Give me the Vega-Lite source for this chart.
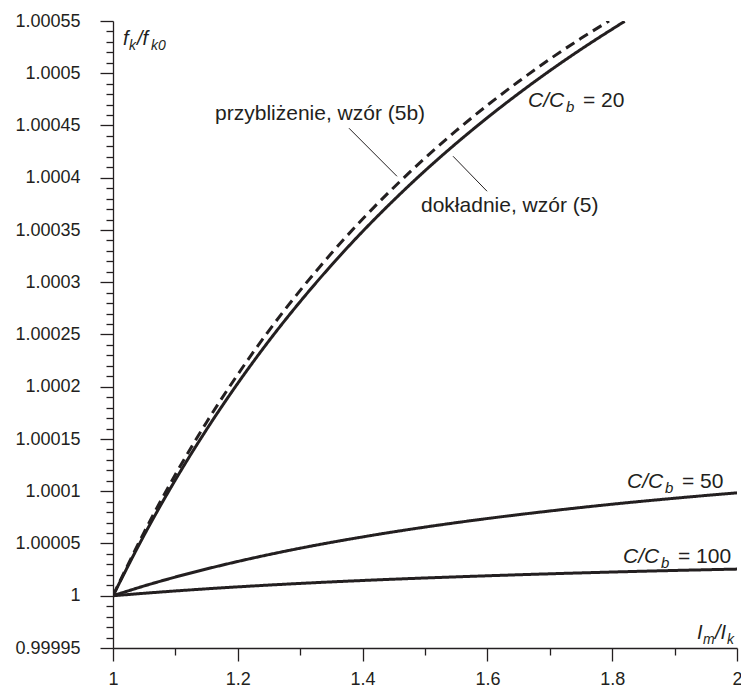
{
  "$schema": "https://vega.github.io/schema/vega-lite/v6.json",
  "width": 624,
  "height": 627,
  "autosize": {"type": "none"},
  "padding": {"left": 113, "top": 21, "right": 4, "bottom": 40},
  "background": "white",
  "config": {
    "view": {"stroke": null},
    "axis": {
      "grid": false,
      "domainColor": "#231f20",
      "domainWidth": 1.3,
      "tickColor": "#231f20",
      "tickWidth": 1.3,
      "labelFont": "Liberation Sans",
      "labelFontSize": 18,
      "labelColor": "#231f20",
      "labelOverlap": false,
      "labelFlush": false,
      "labelBound": false
    },
    "text": {"font": "Liberation Sans", "color": "#231f20", "align": "left", "baseline": "alphabetic"}
  },
  "datasets": {
    "curves": [
      {"x": 1, "y": 1, "s": "20"},
      {"x": 1.05, "y": 1.0000581, "s": "20"},
      {"x": 1.1, "y": 1.0001109, "s": "20"},
      {"x": 1.15, "y": 1.0001591, "s": "20"},
      {"x": 1.2, "y": 1.0002033, "s": "20"},
      {"x": 1.25, "y": 1.000244, "s": "20"},
      {"x": 1.3, "y": 1.0002815, "s": "20"},
      {"x": 1.35, "y": 1.0003163, "s": "20"},
      {"x": 1.4, "y": 1.0003486, "s": "20"},
      {"x": 1.45, "y": 1.0003786, "s": "20"},
      {"x": 1.5, "y": 1.0004067, "s": "20"},
      {"x": 1.55, "y": 1.0004329, "s": "20"},
      {"x": 1.6, "y": 1.0004575, "s": "20"},
      {"x": 1.65, "y": 1.0004806, "s": "20"},
      {"x": 1.7, "y": 1.0005024, "s": "20"},
      {"x": 1.75, "y": 1.0005229, "s": "20"},
      {"x": 1.8, "y": 1.0005422, "s": "20"},
      {"x": 1.82, "y": 1.0005497, "s": "20"},
      {"x": 1, "y": 1, "s": "20a"},
      {"x": 1.05, "y": 1.0000609, "s": "20a"},
      {"x": 1.1, "y": 1.000116, "s": "20a"},
      {"x": 1.15, "y": 1.0001661, "s": "20a"},
      {"x": 1.2, "y": 1.0002118, "s": "20a"},
      {"x": 1.25, "y": 1.0002538, "s": "20a"},
      {"x": 1.3, "y": 1.0002922, "s": "20a"},
      {"x": 1.35, "y": 1.0003277, "s": "20a"},
      {"x": 1.4, "y": 1.0003605, "s": "20a"},
      {"x": 1.45, "y": 1.0003907, "s": "20a"},
      {"x": 1.5, "y": 1.0004189, "s": "20a"},
      {"x": 1.55, "y": 1.000445, "s": "20a"},
      {"x": 1.6, "y": 1.0004694, "s": "20a"},
      {"x": 1.65, "y": 1.0004921, "s": "20a"},
      {"x": 1.7, "y": 1.0005135, "s": "20a"},
      {"x": 1.75, "y": 1.0005334, "s": "20a"},
      {"x": 1.795, "y": 1.00055, "s": "20a"},
      {"x": 1, "y": 1, "s": "50"},
      {"x": 1.05, "y": 1.0000094, "s": "50"},
      {"x": 1.1, "y": 1.0000179, "s": "50"},
      {"x": 1.2, "y": 1.0000328, "s": "50"},
      {"x": 1.3, "y": 1.0000455, "s": "50"},
      {"x": 1.4, "y": 1.0000563, "s": "50"},
      {"x": 1.5, "y": 1.0000657, "s": "50"},
      {"x": 1.6, "y": 1.0000739, "s": "50"},
      {"x": 1.7, "y": 1.0000811, "s": "50"},
      {"x": 1.8, "y": 1.0000876, "s": "50"},
      {"x": 1.9, "y": 1.0000933, "s": "50"},
      {"x": 2, "y": 1.0000985, "s": "50"},
      {"x": 1, "y": 1, "s": "100"},
      {"x": 1.1, "y": 1.0000046, "s": "100"},
      {"x": 1.2, "y": 1.0000085, "s": "100"},
      {"x": 1.3, "y": 1.0000118, "s": "100"},
      {"x": 1.4, "y": 1.0000146, "s": "100"},
      {"x": 1.5, "y": 1.000017, "s": "100"},
      {"x": 1.6, "y": 1.0000191, "s": "100"},
      {"x": 1.7, "y": 1.000021, "s": "100"},
      {"x": 1.8, "y": 1.0000227, "s": "100"},
      {"x": 1.9, "y": 1.0000242, "s": "100"},
      {"x": 2, "y": 1.0000255, "s": "100"}
    ],
    "leaders": [
      {"x": 1.3782, "y": 1.0004474, "x2": 1.4551, "y2": 1.0004014},
      {"x": 1.5449, "y": 1.0004206, "x2": 1.5994, "y2": 1.0003871}
    ],
    "ratios": [
      {"x": 1.6651, "y": 1.0004675, "n": "= 20"},
      {"x": 1.8237, "y": 1.0001029, "n": "= 50"},
      {"x": 1.8173, "y": 1.0000311, "n": "= 100"}
    ],
    "notes": [
      {"x": 1.1635, "y": 1.000455, "t": "przybliżenie, wzór (5b)"},
      {"x": 1.4936, "y": 1.000367, "t": "dokładnie, wzór (5)"}
    ],
    "ytitle": [{"x": 1.016, "y": 1.0005268}],
    "xtitle": [{"x": 1.9359, "y": 0.9999584}]
  },
  "layer": [
    {
      "data": {"name": "curves"},
      "mark": {"type": "line", "color": "#231f20", "strokeWidth": 3, "interpolate": "monotone", "clip": true, "strokeCap": "butt"},
      "encoding": {
        "x": {
          "field": "x", "type": "quantitative", "title": null,
          "scale": {"domain": [1, 2], "nice": false, "zero": false},
          "axis": {
            "values": [1, 1.1, 1.2, 1.3, 1.4, 1.5, 1.6, 1.7, 1.8, 1.9, 2],
            "tickCount": 200,
            "labelExpr": "abs(datum.value*5 - round(datum.value*5)) < 0.001 ? format(datum.value, '.2~f') : ''",
            "tickSize": {"condition": {"test": "abs(datum.value*5 - round(datum.value*5)) < 0.001", "value": 13}, "value": 7},
            "labelPadding": 9,
            "labelAlign": "center",
            "labelBaseline": "top"
          }
        },
        "y": {
          "field": "y", "type": "quantitative", "title": null,
          "scale": {"domain": [0.99995, 1.00055], "nice": false, "zero": false},
          "axis": {
            "values": [0.99995, 0.99996, 0.99997, 0.99998, 0.99999, 1, 1.00001, 1.00002, 1.00003, 1.00004, 1.00005, 1.00006, 1.00007, 1.00008, 1.00009, 1.0001, 1.00011, 1.00012, 1.00013, 1.00014, 1.00015, 1.00016, 1.00017, 1.00018, 1.00019, 1.0002, 1.00021, 1.00022, 1.00023, 1.00024, 1.00025, 1.00026, 1.00027, 1.00028, 1.00029, 1.0003, 1.00031, 1.00032, 1.00033, 1.00034, 1.00035, 1.00036, 1.00037, 1.00038, 1.00039, 1.0004, 1.00041, 1.00042, 1.00043, 1.00044, 1.00045, 1.00046, 1.00047, 1.00048, 1.00049, 1.0005, 1.00051, 1.00052, 1.00053, 1.00054, 1.00055],
            "tickCount": 200,
            "labelExpr": "abs(datum.value*20000 - round(datum.value*20000)) < 0.001 ? format(datum.value, '.6~g') : ''",
            "tickSize": {"condition": {"test": "abs(datum.value*20000 - round(datum.value*20000)) < 0.001", "value": 13}, "value": 7},
            "labelPadding": 20,
            "labelBaseline": "middle"
          }
        },
        "detail": {"field": "s"},
        "strokeDash": {
          "field": "s", "type": "nominal", "legend": null,
          "scale": {"domain": ["20", "20a", "50", "100"], "range": [[1, 0], [10, 6], [1, 0], [1, 0]]}
        }
      }
    },
    {
      "data": {"name": "leaders"},
      "mark": {"type": "rule", "color": "#231f20", "strokeWidth": 1},
      "encoding": {
        "x": {"field": "x", "type": "quantitative", "title": null},
        "y": {"field": "y", "type": "quantitative", "title": null},
        "x2": {"field": "x2"},
        "y2": {"field": "y2"}
      }
    },
    {
      "data": {"name": "notes"},
      "mark": {"type": "text", "fontSize": 21},
      "encoding": {
        "x": {"field": "x", "type": "quantitative", "title": null},
        "y": {"field": "y", "type": "quantitative", "title": null},
        "text": {"field": "t"}
      }
    },
    {
      "data": {"name": "ratios"},
      "mark": {"type": "text", "fontSize": 21, "fontStyle": "italic", "text": "C/C"},
      "encoding": {
        "x": {"field": "x", "type": "quantitative", "title": null},
        "y": {"field": "y", "type": "quantitative", "title": null}
      }
    },
    {
      "data": {"name": "ratios"},
      "mark": {"type": "text", "fontSize": 15, "fontStyle": "italic", "text": "b", "dx": 38, "dy": 5},
      "encoding": {
        "x": {"field": "x", "type": "quantitative", "title": null},
        "y": {"field": "y", "type": "quantitative", "title": null}
      }
    },
    {
      "data": {"name": "ratios"},
      "mark": {"type": "text", "fontSize": 21, "dx": 55},
      "encoding": {
        "x": {"field": "x", "type": "quantitative", "title": null},
        "y": {"field": "y", "type": "quantitative", "title": null},
        "text": {"field": "n"}
      }
    },
    {
      "data": {"name": "ytitle"},
      "mark": {"type": "text", "fontSize": 20, "fontStyle": "italic", "text": "f"},
      "encoding": {
        "x": {"field": "x", "type": "quantitative", "title": null},
        "y": {"field": "y", "type": "quantitative", "title": null}
      }
    },
    {
      "data": {"name": "ytitle"},
      "mark": {"type": "text", "fontSize": 14, "fontStyle": "italic", "text": "k", "dx": 6, "dy": 5},
      "encoding": {
        "x": {"field": "x", "type": "quantitative", "title": null},
        "y": {"field": "y", "type": "quantitative", "title": null}
      }
    },
    {
      "data": {"name": "ytitle"},
      "mark": {"type": "text", "fontSize": 20, "fontStyle": "italic", "text": "/f", "dx": 14},
      "encoding": {
        "x": {"field": "x", "type": "quantitative", "title": null},
        "y": {"field": "y", "type": "quantitative", "title": null}
      }
    },
    {
      "data": {"name": "ytitle"},
      "mark": {"type": "text", "fontSize": 14, "fontStyle": "italic", "text": "k0", "dx": 28, "dy": 5},
      "encoding": {
        "x": {"field": "x", "type": "quantitative", "title": null},
        "y": {"field": "y", "type": "quantitative", "title": null}
      }
    },
    {
      "data": {"name": "xtitle"},
      "mark": {"type": "text", "fontSize": 20, "fontStyle": "italic", "text": "I"},
      "encoding": {
        "x": {"field": "x", "type": "quantitative", "title": null},
        "y": {"field": "y", "type": "quantitative", "title": null}
      }
    },
    {
      "data": {"name": "xtitle"},
      "mark": {"type": "text", "fontSize": 14, "fontStyle": "italic", "text": "m", "dx": 6, "dy": 5},
      "encoding": {
        "x": {"field": "x", "type": "quantitative", "title": null},
        "y": {"field": "y", "type": "quantitative", "title": null}
      }
    },
    {
      "data": {"name": "xtitle"},
      "mark": {"type": "text", "fontSize": 20, "fontStyle": "italic", "text": "/I", "dx": 18},
      "encoding": {
        "x": {"field": "x", "type": "quantitative", "title": null},
        "y": {"field": "y", "type": "quantitative", "title": null}
      }
    },
    {
      "data": {"name": "xtitle"},
      "mark": {"type": "text", "fontSize": 14, "fontStyle": "italic", "text": "k", "dx": 30, "dy": 5},
      "encoding": {
        "x": {"field": "x", "type": "quantitative", "title": null},
        "y": {"field": "y", "type": "quantitative", "title": null}
      }
    }
  ]
}
